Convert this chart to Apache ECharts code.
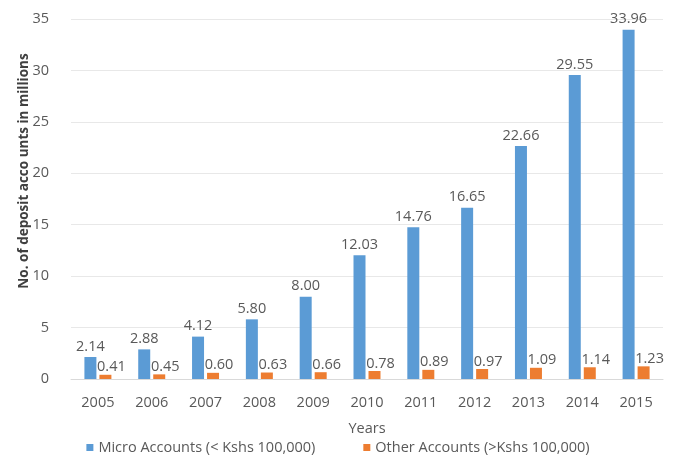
<!DOCTYPE html>
<html>
<head>
<meta charset="utf-8">
<script src="https://cdn.jsdelivr.net/npm/echarts@6/dist/echarts.min.js"></script>
<style>
  html, body { margin: 0; padding: 0; background: #fff; }
  #chart { width: 676px; height: 460px; }
</style>
</head>
<body>
<div id="chart"></div>
<script>
// Deposit account units by year (millions)
const years = ['2005', '2006', '2007', '2008', '2009', '2010', '2011', '2012', '2013', '2014', '2015'];
const microAccounts = [2.14, 2.88, 4.12, 5.80, 8.00, 12.03, 14.76, 16.65, 22.66, 29.55, 33.96];
const otherAccounts = [0.41, 0.45, 0.60, 0.63, 0.66, 0.78, 0.89, 0.97, 1.09, 1.14, 1.23];
const seriesNames = ['Micro Accounts (< Kshs 100,000)', 'Other Accounts (>Kshs 100,000)'];

const FONT = '"Open Sans", "Liberation Sans", sans-serif';
const TEXT = '#595959';
const FS = 14.5;

const chart = echarts.init(document.getElementById('chart'), null, { renderer: 'canvas' });

chart.setOption({
  backgroundColor: '#ffffff',
  animation: false,
  textStyle: { fontFamily: FONT, color: TEXT },
  grid: { left: 71, right: 13, top: 19, bottom: 81, containLabel: false },
  legend: {
    bottom: 0,
    left: 'center',
    icon: 'rect',
    itemWidth: 7,
    itemHeight: 7,
    itemGap: 48,
    textStyle: { fontFamily: FONT, fontSize: FS, color: TEXT },
    data: seriesNames
  },
  xAxis: {
    type: 'category',
    data: years,
    name: 'Years',
    nameLocation: 'middle',
    nameGap: 42,
    nameTextStyle: { fontFamily: FONT, fontSize: FS, color: TEXT },
    axisLine: { lineStyle: { color: '#d9d9d9', width: 1 } },
    axisTick: { show: false },
    axisLabel: { fontFamily: FONT, fontSize: FS, color: TEXT, margin: 16 }
  },
  yAxis: {
    type: 'value',
    min: 0,
    max: 35,
    interval: 5,
    name: 'No. of deposit acco unts in millions',
    nameLocation: 'middle',
    nameGap: 40,
    nameMoveOverlap: false,
    nameRotate: 90,
    nameTextStyle: {
      fontFamily: FONT, fontSize: 13.5, fontWeight: 'bold', color: '#404040',
      padding: [0, 0, 0, 56]
    },
    axisLine: { show: false },
    axisTick: { show: false },
    axisLabel: { fontFamily: FONT, fontSize: FS, color: TEXT, margin: 22 },
    splitLine: { lineStyle: { color: '#e8e8e8', width: 1 } }
  },
  series: [
    {
      name: seriesNames[0],
      type: 'bar',
      data: microAccounts,
      barWidth: 12,
      barGap: '25%',
      itemStyle: { color: '#5B9BD5' },
      label: {
        show: true,
        position: 'top',
        distance: 3,
        formatter: p => p.value.toFixed(2),
        fontFamily: FONT, fontSize: FS, color: TEXT
      }
    },
    {
      name: seriesNames[1],
      type: 'bar',
      data: otherAccounts,
      barWidth: 12,
      itemStyle: { color: '#ED7D31' },
      label: {
        show: true,
        position: 'top',
        distance: 0,
        offset: [6, 0],
        formatter: p => p.value.toFixed(2),
        fontFamily: FONT, fontSize: FS, color: TEXT
      }
    }
  ]
});
</script>
</body>
</html>
